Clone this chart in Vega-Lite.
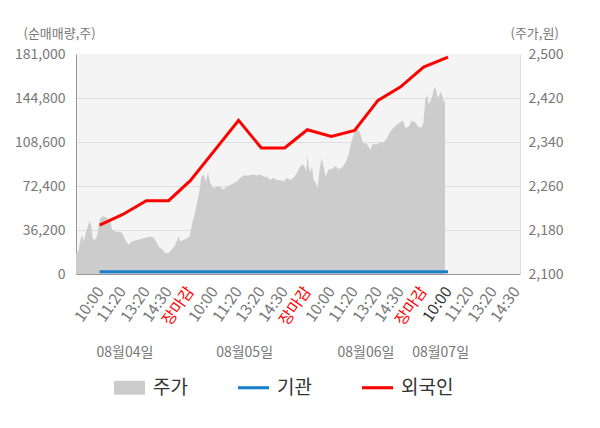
{
  "$schema": "https://vega.github.io/schema/vega-lite/v6.json",
  "description": "순매매량 and 주가, 08월04일 - 08월07일",
  "width": 444,
  "height": 220,
  "autosize": {"type": "none"},
  "padding": {"left": 76, "top": 54, "right": 80, "bottom": 154},
  "usermeta": {"embedOptions": {"actions": false}},
  "config": {
    "font": "Noto Sans CJK KR",
    "view": {"fill": "#f4f4f4", "stroke": null},
    "axis": {"labelColor": "#777", "labelFontSize": 14, "ticks": false, "titleFontWeight": "normal", "titleColor": "#777", "titleFontSize": 13}
  },
  "datasets": {
    "price": [
      {"i": 0, "p": 2138}, {"i": 2.3, "p": 2141}, {"i": 5, "p": 2166}, {"i": 6.3, "p": 2171},
      {"i": 7.6, "p": 2159}, {"i": 9.3, "p": 2171}, {"i": 11, "p": 2182}, {"i": 13.6, "p": 2196},
      {"i": 15, "p": 2190}, {"i": 16.6, "p": 2165}, {"i": 18.6, "p": 2162}, {"i": 21, "p": 2168},
      {"i": 22.6, "p": 2187}, {"i": 24.3, "p": 2202}, {"i": 27.6, "p": 2205}, {"i": 31, "p": 2202},
      {"i": 34.3, "p": 2196}, {"i": 36, "p": 2181}, {"i": 39.3, "p": 2177}, {"i": 42.6, "p": 2177},
      {"i": 46, "p": 2175}, {"i": 49.3, "p": 2162}, {"i": 52.6, "p": 2153}, {"i": 56, "p": 2159},
      {"i": 61, "p": 2162}, {"i": 66, "p": 2164}, {"i": 71, "p": 2167}, {"i": 76, "p": 2168},
      {"i": 79.3, "p": 2162}, {"i": 82.6, "p": 2150}, {"i": 86, "p": 2145}, {"i": 89.3, "p": 2138},
      {"i": 92.6, "p": 2138}, {"i": 96, "p": 2145}, {"i": 99.3, "p": 2153}, {"i": 102.6, "p": 2168},
      {"i": 104.3, "p": 2159}, {"i": 107.6, "p": 2162}, {"i": 111, "p": 2165}, {"i": 113.6, "p": 2168},
      {"i": 115, "p": 2181}, {"i": 116.6, "p": 2196}, {"i": 118.6, "p": 2208}, {"i": 121, "p": 2229},
      {"i": 123.3, "p": 2250}, {"i": 125.3, "p": 2277}, {"i": 127.6, "p": 2281}, {"i": 130, "p": 2268},
      {"i": 132, "p": 2284}, {"i": 134.3, "p": 2265}, {"i": 137.6, "p": 2256}, {"i": 141, "p": 2259},
      {"i": 144.3, "p": 2258}, {"i": 147.6, "p": 2253}, {"i": 151, "p": 2259}, {"i": 154.3, "p": 2262},
      {"i": 157.6, "p": 2265}, {"i": 161, "p": 2268}, {"i": 164.3, "p": 2275}, {"i": 167.6, "p": 2279},
      {"i": 172.6, "p": 2279}, {"i": 177.6, "p": 2281}, {"i": 181, "p": 2279}, {"i": 184.3, "p": 2281},
      {"i": 187.6, "p": 2277}, {"i": 191, "p": 2277}, {"i": 194.3, "p": 2271}, {"i": 197.6, "p": 2275},
      {"i": 201, "p": 2271}, {"i": 204.3, "p": 2271}, {"i": 207.6, "p": 2268}, {"i": 211, "p": 2275},
      {"i": 214.3, "p": 2271}, {"i": 217.6, "p": 2275}, {"i": 221, "p": 2284}, {"i": 224.3, "p": 2296},
      {"i": 227.6, "p": 2299}, {"i": 230, "p": 2287}, {"i": 231.6, "p": 2317}, {"i": 232.6, "p": 2296},
      {"i": 234.3, "p": 2284}, {"i": 236, "p": 2296}, {"i": 237.6, "p": 2271}, {"i": 240, "p": 2265},
      {"i": 241.6, "p": 2256}, {"i": 243.6, "p": 2290}, {"i": 245.6, "p": 2311}, {"i": 247.6, "p": 2296},
      {"i": 249.6, "p": 2277}, {"i": 252.6, "p": 2290}, {"i": 256, "p": 2291}, {"i": 259.3, "p": 2296},
      {"i": 262.6, "p": 2291}, {"i": 266, "p": 2293}, {"i": 269.3, "p": 2302}, {"i": 272.6, "p": 2317},
      {"i": 274.3, "p": 2332}, {"i": 277, "p": 2350}, {"i": 279.3, "p": 2362}, {"i": 281.6, "p": 2364},
      {"i": 284.3, "p": 2356}, {"i": 287, "p": 2338}, {"i": 291, "p": 2337}, {"i": 294.3, "p": 2326},
      {"i": 297, "p": 2337}, {"i": 300.3, "p": 2335}, {"i": 303.6, "p": 2339}, {"i": 307, "p": 2338},
      {"i": 310.3, "p": 2345}, {"i": 313.6, "p": 2357}, {"i": 317, "p": 2365}, {"i": 320.3, "p": 2371},
      {"i": 323.6, "p": 2375}, {"i": 327, "p": 2379}, {"i": 329.6, "p": 2365}, {"i": 332.6, "p": 2368},
      {"i": 336, "p": 2379}, {"i": 339.3, "p": 2376}, {"i": 342.6, "p": 2367}, {"i": 346, "p": 2367},
      {"i": 347.6, "p": 2377}, {"i": 348.6, "p": 2400}, {"i": 349.3, "p": 2417}, {"i": 351, "p": 2426},
      {"i": 352.6, "p": 2408}, {"i": 354.3, "p": 2414}, {"i": 356, "p": 2420}, {"i": 357.6, "p": 2435},
      {"i": 359.3, "p": 2441}, {"i": 361, "p": 2426}, {"i": 362.6, "p": 2420}, {"i": 364.3, "p": 2432},
      {"i": 366, "p": 2426}, {"i": 367.6, "p": 2414}, {"i": 369, "p": 2414}
    ],
    "foreign": [
      {"i": 23.6, "v": 40150}, {"i": 46.3, "v": 48800}, {"i": 70.3, "v": 60300}, {"i": 92.6, "v": 60300},
      {"i": 114.3, "v": 76800}, {"i": 162.6, "v": 126400}, {"i": 185.3, "v": 103700}, {"i": 208.6, "v": 103700},
      {"i": 231.3, "v": 118700}, {"i": 255.3, "v": 113200}, {"i": 278.6, "v": 118100}, {"i": 302, "v": 142800},
      {"i": 324.3, "v": 153800}, {"i": 347.6, "v": 170300}, {"i": 372, "v": 178500}
    ],
    "inst": [
      {"i": 23.6, "v": 1800}, {"i": 46.3, "v": 1800}, {"i": 70.3, "v": 1800}, {"i": 92.6, "v": 1800},
      {"i": 114.3, "v": 1800}, {"i": 162.6, "v": 1800}, {"i": 185.3, "v": 1800}, {"i": 208.6, "v": 1800},
      {"i": 231.3, "v": 1800}, {"i": 255.3, "v": 1800}, {"i": 278.6, "v": 1800}, {"i": 302, "v": 1800},
      {"i": 324.3, "v": 1800}, {"i": 347.6, "v": 1800}, {"i": 372, "v": 1800}
    ],
    "close": [{"i": 114}, {"i": 231}, {"i": 347}],
    "dates": [
      {"i": 49, "d": "08월04일"}, {"i": 168.6, "d": "08월05일"},
      {"i": 290, "d": "08월06일"}, {"i": 364.6, "d": "08월07일"}
    ]
  },
  "encoding": {
    "x": {
      "field": "i",
      "type": "quantitative",
      "scale": {"domain": [0, 444], "nice": false, "zero": false},
      "axis": {
        "title": null,
        "grid": false,
        "domainColor": "#999",
        "values": [24, 46, 70, 92, 114, 138, 162, 185, 208, 231, 255, 278, 302, 324, 347, 372, 394, 417, 440],
        "labelExpr": "['10:00','11:20','13:20','14:30','장마감'][indexof([24,46,70,92,114,138,162,185,208,231,255,278,302,324,347,372,394,417,440], datum.value) % 5]",
        "labelAngle": -55,
        "labelFontSize": 15.5,
        "labelPadding": 14,
        "labelOverlap": false,
        "labelFlush": false,
        "labelBound": false,
        "labelColor": {
          "condition": [
            {"test": "datum.value == 114 || datum.value == 231 || datum.value == 347", "value": "#ff0000"},
            {"test": "datum.value == 372", "value": "#333333"}
          ],
          "value": "#777777"
        }
      }
    }
  },
  "layer": [
    {
      "data": {"name": "price"},
      "mark": {"type": "area", "interpolate": "linear"},
      "encoding": {
        "y": {
          "field": "p",
          "type": "quantitative",
          "scale": {"domain": [2100, 2500], "nice": false, "zero": false},
          "axis": {
            "orient": "right",
            "title": "(주가,원)",
            "titleAngle": 0,
            "titleAlign": "left",
            "titleBaseline": "middle",
            "titleX": -10,
            "titleY": -21,
            "values": [2100, 2180, 2260, 2340, 2420, 2500],
            "format": ",d",
            "grid": false,
            "domainColor": "#dddddd",
            "labelPadding": 8
          }
        },
        "y2": {"datum": 2100},
        "color": {
          "datum": "주가",
          "scale": {"domain": ["주가", "기관", "외국인"], "range": ["#cccccc", "#1a80cc", "#ff0000"]},
          "legend": {
            "orient": "none",
            "legendX": 38,
            "legendY": 318,
            "direction": "horizontal",
            "title": null,
            "labelFontSize": 19,
            "labelColor": "#333333",
            "labelOffset": 8,
            "columnPadding": 50,
            "symbolSize": 961,
            "symbolStrokeWidth": 0,
            "encode": {
              "symbols": {
                "update": {
                  "shape": {"signal": "datum.value === '주가' ? 'M-1,-0.45H1V0.45H-1Z' : 'M-1,-0.1H1V0.1H-1Z'"},
                  "fill": {"scale": "color", "field": "value"},
                  "fillOpacity": {"value": 1},
                  "strokeWidth": {"value": 0}
                }
              }
            }
          }
        }
      }
    },
    {
      "encoding": {
        "y": {
          "field": "v",
          "type": "quantitative",
          "scale": {"domain": [0, 181000], "nice": false, "zero": false},
          "axis": {
            "title": "(순매매량,주)",
            "titleAngle": 0,
            "titleAlign": "left",
            "titleBaseline": "middle",
            "titleX": -53,
            "titleY": -21,
            "values": [0, 36200, 72400, 108600, 144800, 181000],
            "format": ",d",
            "grid": true,
            "gridColor": {"condition": {"test": "datum.value == 181000", "value": "transparent"}, "value": "#dddddd"},
            "domainColor": "#999999",
            "labelPadding": 11
          }
        }
      },
      "layer": [
        {
          "data": {"name": "close"},
          "mark": {"type": "rule", "color": "#888888", "strokeWidth": 1},
          "encoding": {
            "y": {"datum": -3000, "type": "quantitative"},
            "y2": {"datum": 188600}
          }
        },
        {
          "data": {"name": "inst"},
          "mark": {"type": "line", "strokeWidth": 3},
          "encoding": {"color": {"datum": "기관"}}
        },
        {
          "data": {"name": "foreign"},
          "mark": {"type": "line", "strokeWidth": 3},
          "encoding": {"color": {"datum": "외국인"}}
        }
      ]
    },
    {
      "data": {"name": "dates"},
      "mark": {"type": "text", "fontSize": 14, "fill": "#777777", "align": "center", "baseline": "middle", "dy": 79},
      "encoding": {
        "y": {"datum": 0, "type": "quantitative", "scale": {"domain": [0, 181000]}, "axis": null},
        "text": {"field": "d", "type": "nominal"}
      }
    }
  ],
  "resolve": {"scale": {"y": "independent"}}
}
